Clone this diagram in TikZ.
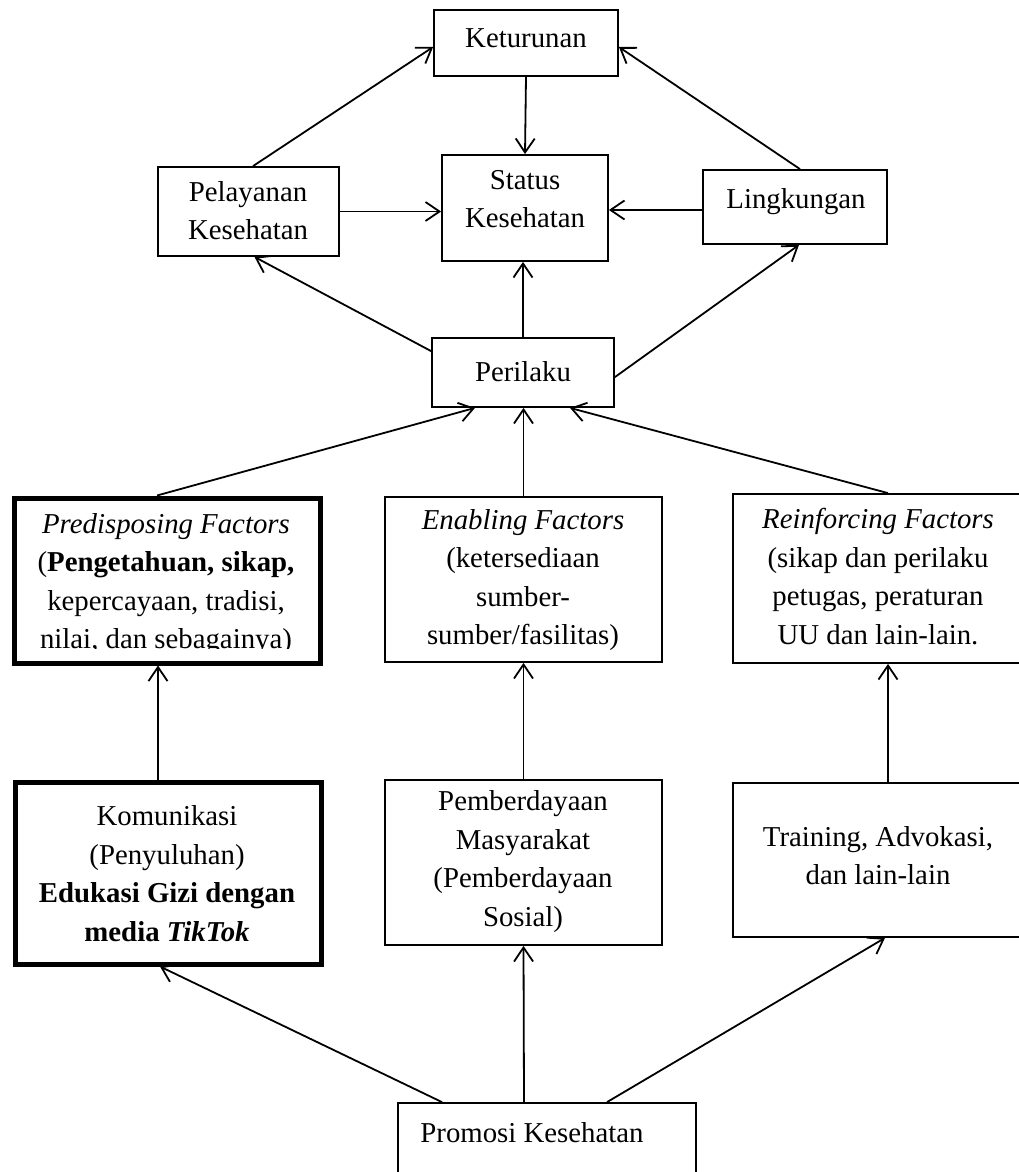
\documentclass[tikz,border=0pt]{standalone}
\usepackage{fontspec}
\setmainfont{Liberation Serif}
\usetikzlibrary{arrows.meta,calc}
\begin{document}
\begin{tikzpicture}[x=1pt,y=-1pt,
  box/.style={draw, line width=1.8pt, inner sep=0pt},
  thickbox/.style={draw, line width=5pt, inner sep=0pt},
  txt/.style={inner sep=0pt, align=center, font=\fontsize{28.8}{38.5}\selectfont,
    execute at begin node=\strut, execute at end node=\strut},
  arr/.style={line width=1.8pt, -{Straight Barb[length=14pt,width=19pt]}}]
\useasboundingbox (0,0) rectangle (1019,1172);
\clip (0,0) rectangle (1019,1172);
% boxes
\node[box, minimum width=184, minimum height=66] (ket) at (526,43) {};
\node[box, minimum width=166, minimum height=106] (stat) at (525,208) {};
\node[box, minimum width=181, minimum height=89] (pel) at (248.5,211.5) {};
\node[box, minimum width=184, minimum height=74] (ling) at (795,207) {};
\node[box, minimum width=182, minimum height=69] (per) at (523,372.5) {};
\node[thickbox, minimum width=306, minimum height=165] (pre) at (167,580.5) {};
\node[box, minimum width=277, minimum height=165] (ena) at (523.5,579.5) {};
\node[box, minimum width=292, minimum height=169] (rei) at (879,578.5) {};
\node[thickbox, minimum width=306, minimum height=182] (kom) at (168,873) {};
\node[box, minimum width=277, minimum height=165] (pem) at (523.5,862.5) {};
\node[box, minimum width=292, minimum height=154] (tra) at (879,860) {};
\node[box, minimum width=298, minimum height=87] (pro) at (547,1146.5) {};
% texts
\node[txt] (tket) at (526,40.3) {Keturunan};
\node[txt] (tstat) at (525,204.8) {Status\\Kesehatan};
\node[txt] (tpel) at (248,216.5) {Pelayanan\\Kesehatan};
\node[txt] (tling) at (796,200.6) {Lingkungan};
\node[txt] (tper) at (523,373.8) {Perilaku};
\begin{scope}
\clip (16,500) rectangle (318,648);
\node[txt] (tpre) at (166,586.8) {\textit{Predisposing Factors}\\(\textbf{Pengetahuan, sikap,}\\kepercayaan, tradisi,\\nilai, dan sebagainya)};
\end{scope}
\node[txt] (tena) at (523,582.8) {\textit{Enabling Factors}\\(ketersediaan\\sumber-\\sumber/fasilitas)};
\node[txt] (trei) at (878,582) {\textit{Reinforcing Factors}\\(sikap dan perilaku\\petugas, peraturan\\UU dan lain-lain.};
\node[txt] (tkom) at (167,879.3) {Komunikasi\\(Penyuluhan)\\\textbf{Edukasi Gizi dengan}\\\textbf{media \textit{TikTok}}};
\node[txt] (tpem) at (523,864.3) {Pemberdayaan\\Masyarakat\\(Pemberdayaan\\Sosial)};
\node[txt] (ttra) at (878,861.3) {Training, Advokasi,\\dan lain-lain};
\node[txt] (tpro) at (532,1134.3) {Promosi Kesehatan};
% arrows
\draw[arr] ([xshift=4.5pt]pel.north) -- ([yshift=-4pt]ket.west);
\draw[arr] ([xshift=5pt]ling.north) -- ([yshift=-4pt]ket.east);
\draw[arr] (ket.south) -- (stat.north);
\draw[arr] (pel.east) -- (stat.west |- pel.east);
\draw[arr] ([yshift=-3pt]ling.west) -- ([yshift=-3pt]stat.east |- ling.west);
\draw[arr] (per.north) -- (per.north |- stat.south);
\draw[arr] ([yshift=-14pt]per.north west) -- ([xshift=6pt]pel.south);
\draw[arr] ([yshift=-40pt]per.north east) -- ([xshift=4pt]ling.south);
\draw[arr] ([xshift=-10pt]pre.north) -- ([xshift=-48pt]per.south);
\draw[arr] (ena.north) -- (ena.north |- per.south);
\draw[arr] ([xshift=9pt]rei.north) -- ([xshift=47pt]per.south);
\draw[arr] ([xshift=-10pt]kom.north) -- ([xshift=-10pt]kom.north |- pre.south);
\draw[arr] (pem.north) -- (ena.south);
\draw[arr] ([xshift=9pt]tra.north) -- ([xshift=9pt]tra.north |- rei.south);
\draw[arr] ([xshift=-105pt]pro.north) -- ([xshift=-8pt]kom.south);
\draw[arr] ([xshift=-23pt]pro.north) -- (pem.south);
\draw[arr] ([xshift=60pt]pro.north) -- ([xshift=6pt]tra.south);
\end{tikzpicture}
\end{document}
